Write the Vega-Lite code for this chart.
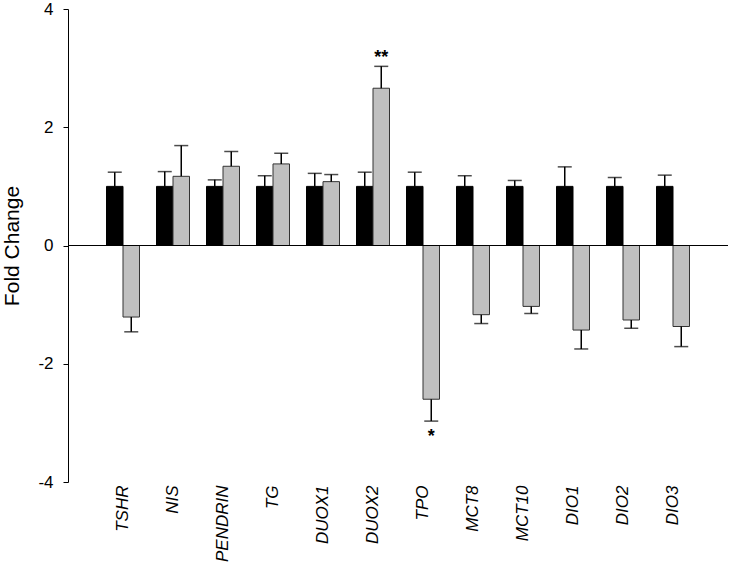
{
  "$schema": "https://vega.github.io/schema/vega-lite/v6.json",
  "width": 660,
  "height": 473,
  "autosize": {"type": "none"},
  "padding": {"left": 68, "top": 9, "right": 1, "bottom": 83},
  "background": "white",
  "config": {
    "view": {"stroke": null},
    "font": "Liberation Sans"
  },
  "datasets": {
    "bars": [
      {"gene": "TSHR", "group": "control", "value": 1.0, "err": 1.24},
      {"gene": "TSHR", "group": "treated", "value": -1.21, "err": -1.46},
      {"gene": "NIS", "group": "control", "value": 1.0, "err": 1.25},
      {"gene": "NIS", "group": "treated", "value": 1.17, "err": 1.69},
      {"gene": "PENDRIN", "group": "control", "value": 1.0, "err": 1.11},
      {"gene": "PENDRIN", "group": "treated", "value": 1.34, "err": 1.59},
      {"gene": "TG", "group": "control", "value": 1.0, "err": 1.18},
      {"gene": "TG", "group": "treated", "value": 1.38, "err": 1.56},
      {"gene": "DUOX1", "group": "control", "value": 1.0, "err": 1.22},
      {"gene": "DUOX1", "group": "treated", "value": 1.08, "err": 1.2},
      {"gene": "DUOX2", "group": "control", "value": 1.0, "err": 1.24},
      {"gene": "DUOX2", "group": "treated", "value": 2.66, "err": 3.03},
      {"gene": "TPO", "group": "control", "value": 1.0, "err": 1.24},
      {"gene": "TPO", "group": "treated", "value": -2.6, "err": -2.97},
      {"gene": "MCT8", "group": "control", "value": 1.0, "err": 1.18},
      {"gene": "MCT8", "group": "treated", "value": -1.17, "err": -1.32},
      {"gene": "MCT10", "group": "control", "value": 1.0, "err": 1.1},
      {"gene": "MCT10", "group": "treated", "value": -1.03, "err": -1.15},
      {"gene": "DIO1", "group": "control", "value": 1.0, "err": 1.33},
      {"gene": "DIO1", "group": "treated", "value": -1.43, "err": -1.75},
      {"gene": "DIO2", "group": "control", "value": 1.0, "err": 1.15},
      {"gene": "DIO2", "group": "treated", "value": -1.26, "err": -1.4},
      {"gene": "DIO3", "group": "control", "value": 1.0, "err": 1.19},
      {"gene": "DIO3", "group": "treated", "value": -1.37, "err": -1.71}
    ],
    "stars": [
      {"gene": "DUOX2", "group": "treated", "pos": 3.17, "label": "**"},
      {"gene": "TPO", "group": "treated", "pos": -3.24, "label": "*"}
    ]
  },
  "layer": [
    {
      "data": {"name": "bars"},
      "mark": {"type": "bar", "stroke": "#333333", "strokeWidth": 1, "strokeOpacity": 1},
      "encoding": {
        "x": {
          "field": "gene", "type": "nominal",
          "scale": {"domain": ["TSHR","NIS","PENDRIN","TG","DUOX1","DUOX2","TPO","MCT8","MCT10","DIO1","DIO2","DIO3"], "paddingInner": 0.34, "paddingOuter": 0.77},
          "axis": {"title": null, "domain": false, "ticks": false, "tickSize": 0, "labelAngle": 270, "labelFontSize": 17, "labelFontStyle": "italic", "labelColor": "black", "labelPadding": 3, "labelFont": "Liberation Sans", "labelBaseline": "middle", "labelAlign": "right"}
        },
        "xOffset": {"field": "group", "type": "nominal", "scale": {"domain": ["control", "treated"], "paddingInner": 0}},
        "y": {
          "field": "value", "type": "quantitative",
          "scale": {"domain": [-4, 4], "nice": false, "zero": false},
          "axis": {"title": "Fold Change", "titleFontSize": 21, "titleFontWeight": "normal", "titleColor": "black", "titleFont": "Liberation Sans", "titlePadding": 15, "values": [-4, -2, 0, 2, 4], "labelExpr": "'' + datum.value", "grid": false, "domainColor": "black", "domainWidth": 1, "tickColor": "black", "tickSize": 5, "labelFontSize": 17, "labelColor": "black", "labelPadding": 10, "labelFont": "Liberation Sans"}
        },
        "y2": {"datum": 0},
        "color": {"field": "group", "type": "nominal", "scale": {"domain": ["control", "treated"], "range": ["#000000", "#c0c0c0"]}, "legend": null},
        "stroke": {"field": "group", "type": "nominal", "scale": {"domain": ["control", "treated"], "range": ["#000000", "#333333"]}, "legend": null}
      }
    },
    {
      "data": {"name": "bars"},
      "mark": {"type": "rule", "color": "black", "strokeWidth": 1.5},
      "encoding": {
        "x": {"field": "gene", "type": "nominal"},
        "xOffset": {"field": "group", "type": "nominal"},
        "y": {"field": "value", "type": "quantitative"},
        "y2": {"field": "err"}
      }
    },
    {
      "data": {"name": "bars"},
      "mark": {"type": "tick", "color": "black", "size": 14, "thickness": 1.5, "orient": "horizontal"},
      "encoding": {
        "x": {"field": "gene", "type": "nominal"},
        "xOffset": {"field": "group", "type": "nominal"},
        "y": {"field": "err", "type": "quantitative"}
      }
    },
    {
      "data": {"values": [{"z": 0}]},
      "mark": {"type": "rule", "color": "black", "strokeWidth": 1},
      "encoding": {"y": {"field": "z", "type": "quantitative"}}
    },
    {
      "data": {"name": "stars"},
      "mark": {"type": "text", "fontSize": 18, "fontWeight": "bold", "baseline": "middle", "align": "center", "color": "black", "font": "Liberation Sans"},
      "encoding": {
        "x": {"field": "gene", "type": "nominal"},
        "xOffset": {"field": "group", "type": "nominal"},
        "y": {"field": "pos", "type": "quantitative"},
        "text": {"field": "label"}
      }
    }
  ]
}
